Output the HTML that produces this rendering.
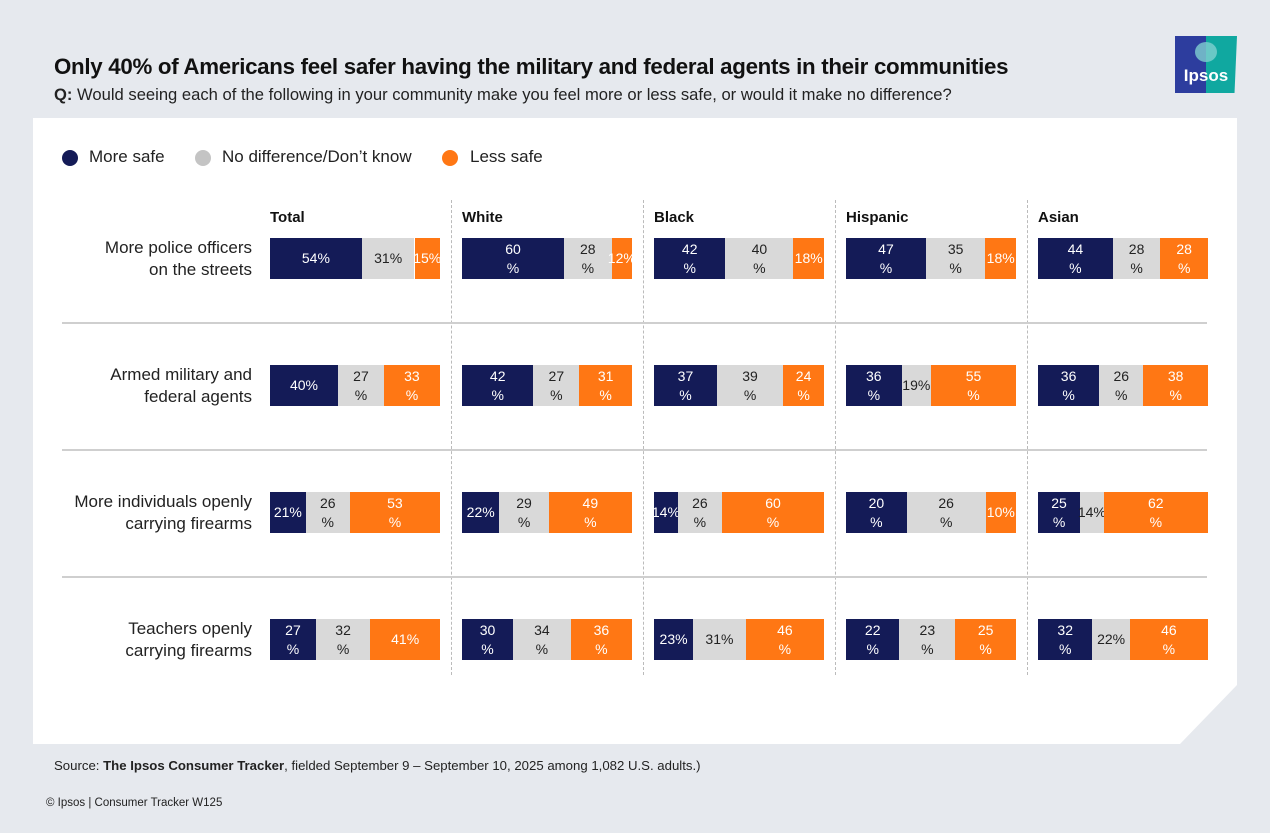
<!DOCTYPE html>
<html><head><meta charset="utf-8">
<style>
body{margin:0;width:1270px;height:833px;background:#e6e9ee;font-family:"Liberation Sans",sans-serif;position:relative;overflow:hidden;color:#111}
.abs{position:absolute}
#title{left:54px;top:54px;font-size:22.3px;font-weight:bold;letter-spacing:-0.3px;color:#111;white-space:nowrap}
#sub{left:54px;top:85px;font-size:16.6px;color:#222;white-space:nowrap}
#card{left:33px;top:118px;width:1204px;height:626px;background:#fff;clip-path:polygon(0 0,100% 0,100% 567px,1147px 100%,0 100%)}
.leg{top:147px;font-size:17px;color:#222;white-space:nowrap}
.dot{width:16px;height:16px;border-radius:50%;top:150px}
.hdr{top:209px;font-size:15px;font-weight:bold}
.rl{font-size:17px;color:#222;text-align:right;width:240px;left:12px;line-height:22px}
.seg{height:41px;display:flex;align-items:center;justify-content:center;text-align:center;font-size:14px;line-height:19px;white-space:nowrap}
.vsep{width:0;border-left:1px dashed #bbb;top:200px;height:475px}
.hsep{left:62px;width:1145px;height:2px;background:#cfcfcf}
#src{left:54px;top:758px;font-size:13.2px;color:#222;white-space:nowrap}
#copy{left:46px;top:797px;font-size:11.5px;color:#222;white-space:nowrap}
</style></head><body>
<div id="title" class="abs">Only 40% of Americans feel safer having the military and federal agents in their communities</div>
<div id="sub" class="abs"><b>Q:</b> Would seeing each of the following in your community make you feel more or less safe, or would it make no difference?</div>
<div class="abs" style="left:1175px;top:36px;width:62px;height:57px;background:linear-gradient(90deg,#2d3d9e 0,#2d3d9e 50%,#10a8a0 50%);clip-path:polygon(0 0,100% 0,96% 100%,0 100%)">
<div class="abs" style="left:20px;top:6px;width:22px;height:20px;border-radius:50%;background:#7fd0d0;opacity:.8"></div>
<div class="abs" style="left:0;top:30px;width:62px;text-align:center;color:#fff;font-weight:bold;font-size:17px">Ipsos</div></div>
<div id="card" class="abs"></div>
<div class="abs dot" style="left:62px;background:#141b57"></div>
<div class="abs leg" style="left:89px">More safe</div>
<div class="abs dot" style="left:195px;background:#c4c4c4"></div>
<div class="abs leg" style="left:222px">No difference/Don’t know</div>
<div class="abs dot" style="left:442px;background:#ff7714"></div>
<div class="abs leg" style="left:470px">Less safe</div>
<div id="chart"></div>
<div id="src" class="abs">Source: <b>The Ipsos Consumer Tracker</b>, fielded September 9 – September 10, 2025 among 1,082 U.S. adults.)</div>
<div id="copy" class="abs">© Ipsos | Consumer Tracker W125</div>
<script>
const groups=["Total","White","Black","Hispanic","Asian"];
const items=["More police officers|on the streets","Armed military and|federal agents","More individuals openly|carrying firearms","Teachers openly|carrying firearms"];
const moreSafe=[[54,60,42,47,44],[40,42,37,36,36],[21,22,14,20,25],[27,30,23,22,32]];
const noDiff=[[31,28,40,35,28],[27,27,39,19,26],[26,29,26,26,14],[32,34,31,23,22]];
const lessSafe=[[15,12,18,18,28],[33,31,24,55,38],[53,49,60,10,62],[41,36,46,25,46]];
const colors=["#141b57","#d9d9d9","#ff7714"];
const txt=["#fff","#222","#fff"];
const segNames=["more-safe","no-difference","less-safe"];
const c=document.getElementById('chart');
const X0=270,DX=192,W=170,Y0=238,DY=127,H=41;
function mk(cls,st){const d=document.createElement('div');d.className='abs '+cls;Object.assign(d.style,st);c.appendChild(d);return d;}
groups.forEach((g,gi)=>{
  const h=mk('hdr',{left:(X0+gi*DX)+'px'});h.textContent=g;
  
  
  if(gi>0){const v=mk('vsep',{left:(X0+gi*DX-11)+'px'});
  
  }
});
items.forEach((it,ri)=>{
  const y=Y0+ri*DY;
  const l=mk('rl',{top:(y-1)+'px'});l.innerHTML=it.split('|').join('<br>');
  
  
  if(ri>0){const s=mk('hsep',{top:(y-43)+'px'});
  
  }
  groups.forEach((g,gi)=>{
    const vals=[moreSafe[ri][gi],noDiff[ri][gi],lessSafe[ri][gi]];
    const sum=vals[0]+vals[1]+vals[2];
    let x=X0+gi*DX;
    vals.forEach((v,si)=>{
      const w=v/sum*W;
      const single=w<40||(gi===0&&si===0&&v!==27)||(gi===0&&si===1&&v===31)||(gi===0&&v===41)||(gi===2&&ri===3&&si===1);
      const s=mk('seg',{left:x+'px',top:y+'px',width:w+'px',background:colors[si],color:txt[si]});
      s.innerHTML=single?v+'%':v+'<br>%';
      
      
      x+=w;
    });
  });
});
</script>
</body></html>
